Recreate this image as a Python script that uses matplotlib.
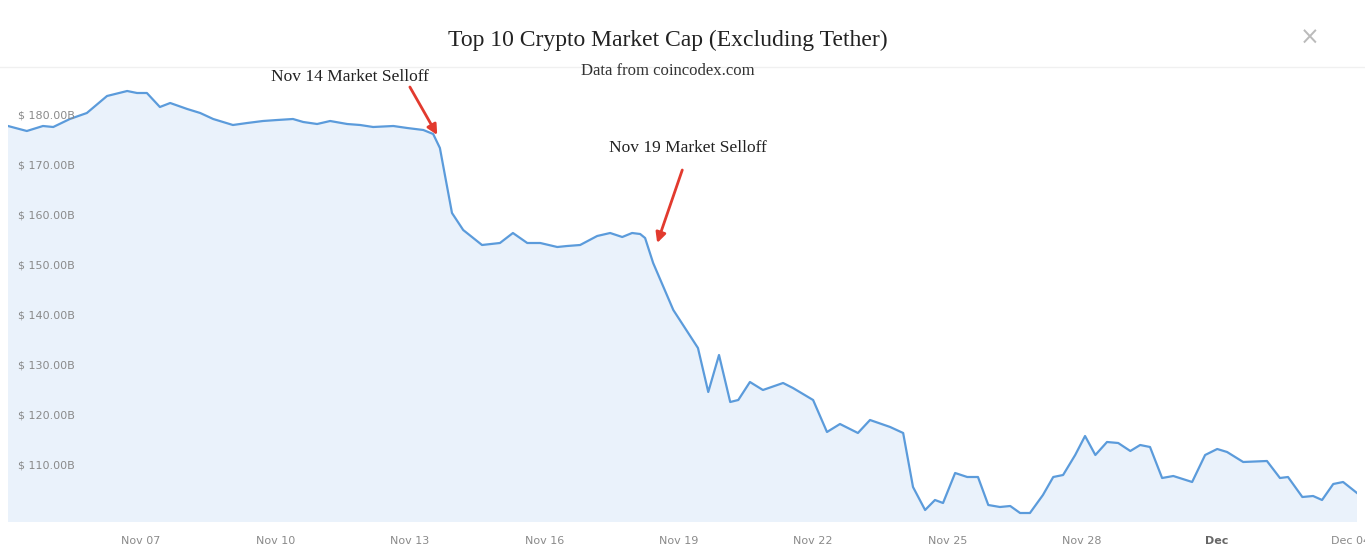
import matplotlib
matplotlib.use("Agg")
import matplotlib.pyplot as plt
from matplotlib.lines import Line2D
import pandas as pd

# time of each sample, in days after Nov 07 2018 00:00
days_from_nov07 = [
    -2.97, -2.55, -2.19, -1.96, -1.59, -1.21, -0.76, -0.31, -0.09, 0.13,
    0.42, 0.65, 1.03, 1.32, 1.61, 2.05, 2.37, 2.72, 3.04, 3.39,
    3.62, 3.93, 4.22, 4.60, 4.89, 5.18, 5.63, 5.94, 6.30, 6.52,
    6.67, 6.79, 6.94, 7.19, 7.61, 8.01, 8.30, 8.62, 8.91, 9.29,
    9.51, 9.80, 10.18, 10.47, 10.74, 10.96, 11.14, 11.25, 11.43, 11.88,
    12.43, 12.66, 12.90, 13.15, 13.33, 13.59, 13.88, 14.33, 14.55, 15.00,
    15.31, 15.60, 16.00, 16.27, 16.72, 17.01, 17.23, 17.50, 17.72, 17.90,
    18.17, 18.44, 18.68, 18.91, 19.17, 19.40, 19.62, 19.84, 20.13, 20.36,
    20.58, 20.85, 21.07, 21.30, 21.56, 21.81, 22.08, 22.30, 22.52, 22.79,
    23.04, 23.46, 23.75, 24.02, 24.24, 24.60, 25.13, 25.42, 25.60, 25.92,
    26.16, 26.36, 26.61, 26.83, 27.14,
]
# market cap, billions of USD
market_cap_b = [
    177.8, 176.8, 177.8, 177.6, 179.2, 180.4, 183.8, 184.8, 184.4, 184.4,
    181.6, 182.4, 181.2, 180.4, 179.2, 178.0, 178.4, 178.8, 179.0, 179.2,
    178.6, 178.2, 178.8, 178.2, 178.0, 177.6, 177.8, 177.4, 177.0, 176.2,
    173.4, 167.6, 160.4, 157.0, 154.0, 154.4, 156.4, 154.4, 154.4, 153.6,
    153.8, 154.0, 155.8, 156.4, 155.6, 156.4, 156.2, 155.4, 150.4, 141.0,
    133.4, 124.6, 132.0, 122.6, 123.0, 126.6, 125.0, 126.4, 125.4, 123.0,
    116.6, 118.2, 116.4, 119.0, 117.6, 116.4, 105.6, 101.0, 103.0, 102.4,
    108.4, 107.6, 107.6, 102.0, 101.6, 101.8, 100.4, 100.4, 104.0, 107.6,
    108.0, 112.0, 115.8, 112.0, 114.6, 114.4, 112.8, 114.0, 113.6, 107.4,
    107.8, 106.6, 112.0, 113.2, 112.6, 110.6, 110.8, 107.4, 107.6, 103.6,
    103.8, 103.0, 106.2, 106.6, 104.4,
]

ytick_values = [110, 120, 130, 140, 150, 160, 170, 180]
xtick_dates = ["2018-11-07", "2018-11-10", "2018-11-13", "2018-11-16", "2018-11-19",
               "2018-11-22", "2018-11-25", "2018-11-28", "2018-12-01", "2018-12-04"]
xtick_labels = ["Nov 07", "Nov 10", "Nov 13", "Nov 16", "Nov 19",
                "Nov 22", "Nov 25", "Nov 28", "Dec", "Dec 04"]

# annotations: label, text position, arrow start, arrow tip  (day, value)
notes = [
    ("Nov 14 Market Selloff", (4.67, 187.6), (6.00, 185.6), (6.61, 176.0)),
    ("Nov 19 Market Selloff", (12.21, 173.4), (12.08, 169.0), (11.52, 154.4)),
]

base = pd.Timestamp("2018-11-07")
times = base + pd.to_timedelta(days_from_nov07, unit="D")

def when(d):
    return base + pd.Timedelta(days=d)

fig = plt.figure(figsize=(13.65, 5.48), dpi=100)
ax = fig.add_axes([8 / 1365, 1 - 522 / 548, 1349 / 1365, 454 / 548])

ax.fill_between(times, market_cap_b, 0, color="#eaf2fb", lw=0)
ax.plot(times, market_cap_b, color="#5b9bdb", lw=1.6)

ax.set_xlim(times[0], times[-1])
ax.set_ylim(98.6, 189.4)
for s in ax.spines.values():
    s.set_visible(False)

ax.set_yticks([])
for v in ytick_values:
    ax.text(0.0075, v, f"$ {v:.2f}B", transform=ax.get_yaxis_transform(),
            ha="left", va="center", fontsize=8, color="#8a8a8a")

ax.set_xticks(pd.to_datetime(xtick_dates))
ax.set_xticklabels(xtick_labels)
ax.tick_params(axis="x", length=0, pad=10, labelsize=8, labelcolor="#8a8a8a")
ax.get_xticklabels()[8].set_fontweight("bold")
ax.get_xticklabels()[8].set_color("#666666")

for label, txt, start, tip in notes:
    ax.text(when(txt[0]), txt[1], label, ha="center", va="center",
            fontsize=12.5, family="Liberation Serif", color="#222222")
    ax.annotate("", xy=(when(tip[0]), tip[1]), xytext=(when(start[0]), start[1]),
                arrowprops=dict(arrowstyle="-|>", color="#e23a2e", lw=2,
                                mutation_scale=15, shrinkA=0, shrinkB=0))

fig.text(668 / 1365, 1 - 40 / 548, "Top 10 Crypto Market Cap (Excluding Tether)",
         ha="center", va="center", fontsize=17, family="Liberation Serif", color="#222222")
fig.text(668 / 1365, 1 - 71 / 548, "Data from coincodex.com",
         ha="center", va="center", fontsize=12, family="Liberation Serif", color="#333333")
fig.text(1310 / 1365, 1 - 38 / 548, "\u00d7", ha="center", va="center",
         fontsize=17, color="#bbbbbb")
fig.add_artist(Line2D([0, 1], [1 - 67 / 548, 1 - 67 / 548], transform=fig.transFigure,
                      color="#f0f0f0", lw=1))

fig.savefig("out.png", dpi=100)
